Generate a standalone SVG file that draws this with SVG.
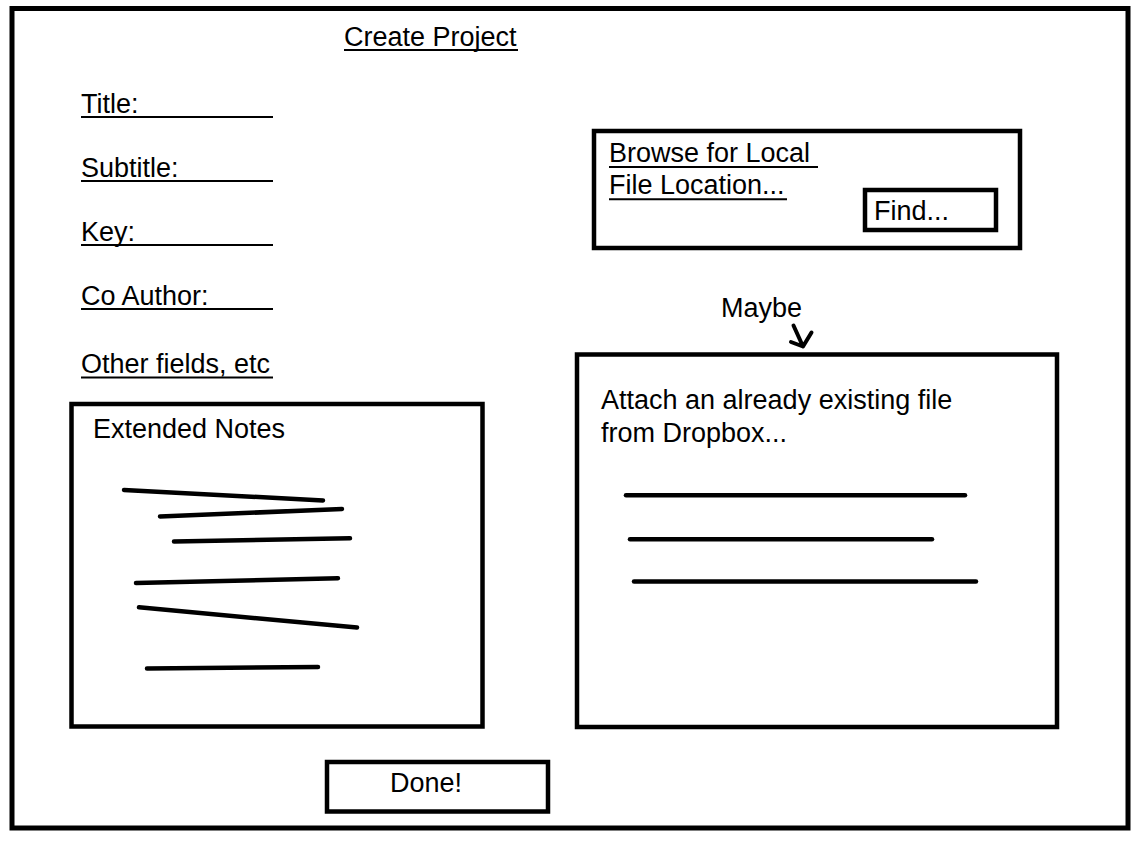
<svg xmlns="http://www.w3.org/2000/svg" width="1145" height="850" viewBox="0 0 1145 850">
<style>
  text { font-family: "Liberation Sans", Arial, sans-serif; font-size: 27px; fill: #000; }
  .box { fill: #fff; stroke: #000; stroke-width: 4.5; }
  .ul { stroke: #000; stroke-width: 2; }
  .scribble { stroke: #000; stroke-width: 4.5; stroke-linecap: round; fill: none; }
  .arrow { stroke: #000; stroke-width: 4; stroke-linecap: round; stroke-linejoin: round; fill: none; }
</style>
<rect x="0" y="0" width="1145" height="850" fill="#fff"/>
<g id="frame">
  <rect x="12" y="8.5" width="1116" height="819.5" fill="#fff" stroke="#000" stroke-width="5"/>
</g>
<g id="title">
  <text x="344" y="46">Create Project</text>
  <line class="ul" x1="344" y1="50" x2="518" y2="50"/>
</g>
<g id="field-title">
  <text x="81" y="113">Title:</text>
  <line class="ul" x1="81" y1="117" x2="273" y2="117"/>
</g>
<g id="field-subtitle">
  <text x="81" y="177">Subtitle:</text>
  <line class="ul" x1="81" y1="181" x2="273" y2="181"/>
</g>
<g id="field-key">
  <text x="81" y="241">Key:</text>
  <line class="ul" x1="81" y1="245" x2="273" y2="245"/>
</g>
<g id="field-coauthor">
  <text x="81" y="305">Co Author:</text>
  <line class="ul" x1="81" y1="309" x2="273" y2="309"/>
</g>
<g id="field-other">
  <text x="81" y="373">Other fields, etc</text>
  <line class="ul" x1="81" y1="377.5" x2="273" y2="377.5"/>
</g>
<g id="browse">
  <rect class="box" x="594" y="131" width="426" height="117"/>
  <text x="609" y="162">Browse for Local </text>
  <line class="ul" x1="609" y1="167" x2="818" y2="167"/>
  <text x="609" y="194">File Location...</text>
  <line class="ul" x1="609" y1="199.3" x2="787" y2="199.3"/>
</g>
<g id="find">
  <rect class="box" x="865" y="190" width="131" height="40" stroke-width="4"/>
  <text x="874" y="220">Find...</text>
</g>
<g id="maybe">
  <text x="721" y="317">Maybe</text>
</g>
<g id="dropbox">
  <rect class="box" x="577" y="354.5" width="480" height="372.5"/>
  <text x="601" y="409">Attach an already existing file</text>
  <text x="601" y="442">from Dropbox...</text>
  <line class="scribble" x1="626" y1="495.3" x2="965" y2="495.3" stroke-width="4"/>
  <line class="scribble" x1="630" y1="539.3" x2="932" y2="539.3" stroke-width="4"/>
  <line class="scribble" x1="634" y1="581.5" x2="976" y2="581.5" stroke-width="4"/>
</g>
<g id="notes">
  <rect class="box" x="71.5" y="404" width="411" height="322.5" stroke-width="4.8"/>
  <text x="93" y="438">Extended Notes</text>
  <line class="scribble" x1="124" y1="490" x2="323" y2="500.5"/>
  <line class="scribble" x1="160" y1="516.5" x2="342" y2="509"/>
  <line class="scribble" x1="174" y1="541.5" x2="350" y2="538.3"/>
  <line class="scribble" x1="136" y1="583" x2="338" y2="578.3"/>
  <line class="scribble" x1="139" y1="607.3" x2="357" y2="627.5"/>
  <line class="scribble" x1="147" y1="668.5" x2="318" y2="667"/>
</g>
<g id="done">
  <rect class="box" x="327" y="762" width="221" height="49.5"/>
  <text x="390" y="792">Done!</text>
</g>
<g id="connectors">
  <path class="arrow" d="M793.5,325.5 L803,346.5 M791,342 L803,346.5 L811.5,332.5"/>
</g>
</svg>
